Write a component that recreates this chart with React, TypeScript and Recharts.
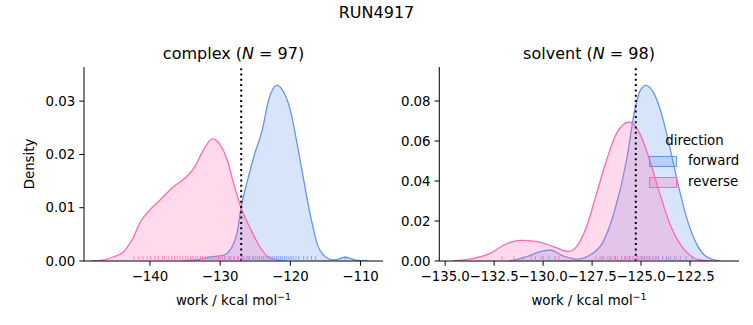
import React from "react";
import { Area, ComposedChart, ReferenceLine, Scatter, XAxis, YAxis } from "recharts";

// complex leg, kde curves
const cRevX = [-148.5, -147.0, -145.2, -143.8, -142.6, -141.2, -140.0, -138.6, -136.7, -134.8, -133.6, -132.4, -131.1, -130.0, -129.0, -128.1, -127.0, -125.7, -124.5, -123.3, -122.0, -120.5];
const cRevY = [0, 0.0001, 0.0008, 0.0017, 0.0039, 0.0077, 0.0096, 0.0114, 0.0139, 0.0158, 0.0177, 0.0208, 0.0229, 0.0218, 0.019, 0.0146, 0.0099, 0.0061, 0.003, 0.0009, 0.0002, 0];
const cFwdX = [-135.5, -133.5, -132.0, -130.5, -129.5, -128.3, -127.6, -127.0, -126.2, -125.2, -124.0, -123.1, -121.9, -121.0, -120.0, -119.05, -118.1, -117.1, -116.2, -115.0, -113.8, -112.1, -110.5, -109.0];
const cFwdY = [0, 0.0002, 0.0006, 0.0009, 0.0011, 0.0027, 0.0052, 0.0102, 0.0146, 0.0196, 0.0246, 0.0302, 0.033, 0.0318, 0.0283, 0.0221, 0.0152, 0.0083, 0.0033, 0.0008, 0.0002, 0.0007, 0.0001, 0];

// solvent leg
const sRevX = [-134.6, -133.55, -132.7, -132.0, -131.17, -130.3, -129.48, -128.7, -128.29, -127.78, -127.27, -126.76, -126.25, -125.6, -125.07, -124.56, -124.05, -123.54, -123.03, -122.52, -122.0, -121.4];
const sRevY = [0, 0.0013, 0.0038, 0.008, 0.0103, 0.0097, 0.0072, 0.0048, 0.0072, 0.0172, 0.0338, 0.0505, 0.0638, 0.0695, 0.0638, 0.0505, 0.0338, 0.0188, 0.0088, 0.003, 0.0005, 0];
const sFwdX = [-131.7, -130.83, -130.15, -129.65, -128.97, -128.3, -127.6, -126.93, -126.34, -125.74, -125.32, -125.07, -124.76, -124.39, -123.96, -123.54, -123.12, -122.69, -122.18, -121.67, -121.0];
const sFwdY = [0, 0.0022, 0.0047, 0.0055, 0.0025, 0.0009, 0.003, 0.0097, 0.0255, 0.0505, 0.0755, 0.0847, 0.0878, 0.0847, 0.0738, 0.0572, 0.0388, 0.0222, 0.0088, 0.0022, 0];

// rug samples (approximate)
const cRevRug = [-142.3, -141.6, -141.0, -140.4, -139.9, -139.3, -138.8, -138.2, -137.9, -137.4, -136.9, -136.5, -136.1, -135.7, -135.3, -134.9, -134.6, -134.2, -133.9, -133.5, -133.2, -132.8, -132.5, -132.1, -131.8, -131.5, -131.2, -130.9, -130.6, -130.3, -130.0, -129.7, -129.3, -128.9, -128.5, -128.0, -127.4, -126.8, -126.0, -125.3];
const cFwdRug = [-131.5, -130.2, -129.4, -128.6, -128.0, -127.5, -127.0, -126.6, -126.2, -125.8, -125.4, -125.0, -124.7, -124.4, -124.1, -123.8, -123.5, -123.2, -122.9, -122.6, -122.3, -122.0, -121.7, -121.4, -121.1, -120.8, -120.5, -120.2, -119.9, -119.6, -119.2, -118.8, -118.1, -117.6, -117.0, -116.4, -112.2];
const sRevRug = [-132.1, -131.5, -131.0, -130.6, -130.1, -129.2, -127.3, -127.1, -126.9, -126.7, -126.5, -126.35, -126.2, -126.0, -125.85, -125.7, -125.55, -125.4, -125.25, -125.1, -124.95, -124.8, -124.6, -124.4, -124.2, -123.9, -123.6, -123.2];
const sFwdRug = [-130.4, -130.0, -129.7, -129.4, -127.0, -126.6, -126.3, -126.0, -125.8, -125.6, -125.4, -125.2, -125.0, -124.85, -124.7, -124.55, -124.4, -124.25, -124.1, -123.9, -123.7, -123.5, -123.3, -123.0, -122.7, -122.4];

const cXTicks = [-140, -130, -120, -110];
const cYTicks = [0, 0.01, 0.02, 0.03];
const sXTicks = [-135, -132.5, -130, -127.5, -125, -122.5];
const sYTicks = [0, 0.02, 0.04, 0.06, 0.08];

const cMean = -127.0;
const sMean = -125.27;

const FWD = "#6495ED";
const REV = "#FF69B4";
const FONT = "DejaVu Sans";
const FS = 13.33;

function table(fx: number[], fy: number[], rx: number[], ry: number[]) {
  const rows = new Map<number, { x: number; fwd?: number; rev?: number }>();
  fx.forEach((x, i) => rows.set(x, { ...(rows.get(x) || { x }), fwd: fy[i] }));
  rx.forEach((x, i) => rows.set(x, { ...(rows.get(x) || { x }), rev: ry[i] }));
  return Array.from(rows.values()).sort((a, b) => a.x - b.x);
}

const rug = (xs: number[]) => xs.map((x) => ({ x, y: 0 }));

const fmt = (d: number) => (v: number) => (v < 0 ? "\u2212" + Math.abs(v).toFixed(d) : v.toFixed(d));

const rugShape = (color: string) => (p: any) =>
  <line x1={p.cx} x2={p.cx} y1={p.cy - 5} y2={p.cy} stroke={color} strokeOpacity={0.75} strokeWidth={1} />;

type PanelProps = {
  data: any[];
  fwdRug: number[];
  revRug: number[];
  xDomain: [number, number];
  yDomain: [number, number];
  xTicks: number[];
  yTicks: number[];
  xDec: number;
  mean: number;
  width: number;
  yAxisWidth: number;
  margin: { top: number; right: number; bottom: number; left: number };
};

function Panel(p: PanelProps) {
  const tick = { fontSize: FS, fill: "#000", fontFamily: FONT };
  return (
    <ComposedChart width={p.width} height={325} data={p.data} margin={p.margin}>
      <XAxis
        dataKey="x"
        type="number"
        domain={p.xDomain}
        ticks={p.xTicks}
        interval={0}
        allowDataOverflow
        tickFormatter={fmt(p.xDec)}
        tick={tick}
        tickSize={4.7}
        tickMargin={6}
        height={30}
        stroke="#000"
      />
      <YAxis
        type="number"
        domain={p.yDomain}
        ticks={p.yTicks}
        interval={0}
        allowDataOverflow
        tickFormatter={fmt(2)}
        tick={tick}
        tickSize={4.7}
        tickMargin={4}
        width={p.yAxisWidth}
        stroke="#000"
      />
      <Area type="monotone" dataKey="fwd" stroke={FWD} strokeWidth={1.3} fill={FWD} fillOpacity={0.25} connectNulls dot={false} activeDot={false} isAnimationActive={false} />
      <Area type="monotone" dataKey="rev" stroke={REV} strokeWidth={1.3} fill={REV} fillOpacity={0.25} connectNulls dot={false} activeDot={false} isAnimationActive={false} />
      <Scatter data={rug(p.fwdRug)} dataKey="y" shape={rugShape(FWD)} isAnimationActive={false} />
      <Scatter data={rug(p.revRug)} dataKey="y" shape={rugShape(REV)} isAnimationActive={false} />
      <ReferenceLine x={p.mean} stroke="#000" strokeWidth={2} strokeDasharray="2 3.3" />
    </ComposedChart>
  );
}

const at = (left: number, top: number, extra: React.CSSProperties = {}): React.CSSProperties => ({
  position: "absolute",
  left,
  top,
  transform: "translate(-50%, -50%)",
  whiteSpace: "nowrap",
  lineHeight: 1,
  ...extra,
});

function XLabel({ x }: { x: number }) {
  return (
    <div style={at(x, 300, { fontSize: FS })}>
      work / kcal mol<sup style={{ fontSize: 9.5, verticalAlign: "5px" }}>{"\u2212"}1</sup>
    </div>
  );
}

function Swatch({ color, top }: { color: string; top: number }) {
  return (
    <div
      style={{
        position: "absolute",
        left: 649,
        top,
        width: 26,
        height: 9,
        background: color + "40",
        border: `1px solid ${color}`,
      }}
    />
  );
}

export default function App() {
  const cData = table(cFwdX, cFwdY, cRevX, cRevY);
  const sData = table(sFwdX, sFwdY, sRevX, sRevY);
  return (
    <div style={{ position: "absolute", left: 0, top: 0, width: 753, height: 325, background: "#fff", fontFamily: FONT, color: "#000" }}>
      <div style={{ position: "absolute", left: 0, top: 0 }}>
        <Panel
          data={cData}
          fwdRug={cFwdRug}
          revRug={cRevRug}
          xDomain={[-149.4, -106.8]}
          yDomain={[0, 0.0364]}
          xTicks={cXTicks}
          yTicks={cYTicks}
          xDec={0}
          mean={cMean}
          width={400}
          yAxisWidth={50}
          margin={{ top: 67, right: 17, bottom: 34, left: 34 }}
        />
      </div>
      <div style={{ position: "absolute", left: 390, top: 0 }}>
        <Panel
          data={sData}
          fwdRug={sFwdRug}
          revRug={sRevRug}
          xDomain={[-135.3, -120.0]}
          yDomain={[0, 0.097]}
          xTicks={sXTicks}
          yTicks={sYTicks}
          xDec={1}
          mean={sMean}
          width={363}
          yAxisWidth={40}
          margin={{ top: 67, right: 14, bottom: 34, left: 9.3 }}
        />
      </div>

      <div style={at(376.5, 13, { fontSize: 16 })}>RUN4917</div>
      <div style={at(233.5, 54, { fontSize: 16 })}>
        complex (<i>N</i> = 97)
      </div>
      <div style={at(589, 54, { fontSize: 16 })}>
        solvent (<i>N</i> = 98)
      </div>
      <XLabel x={233.5} />
      <XLabel x={589} />
      <div style={at(30, 164, { fontSize: FS, transform: "translate(-50%, -50%) rotate(-90deg)" })}>Density</div>

      <div style={at(694.5, 141, { fontSize: FS })}>direction</div>
      <Swatch color={FWD} top={156} />
      <div style={{ position: "absolute", left: 688, top: 161, transform: "translateY(-50%)", fontSize: FS, lineHeight: 1 }}>forward</div>
      <Swatch color={REV} top={177} />
      <div style={{ position: "absolute", left: 688, top: 182, transform: "translateY(-50%)", fontSize: FS, lineHeight: 1 }}>reverse</div>
    </div>
  );
}
